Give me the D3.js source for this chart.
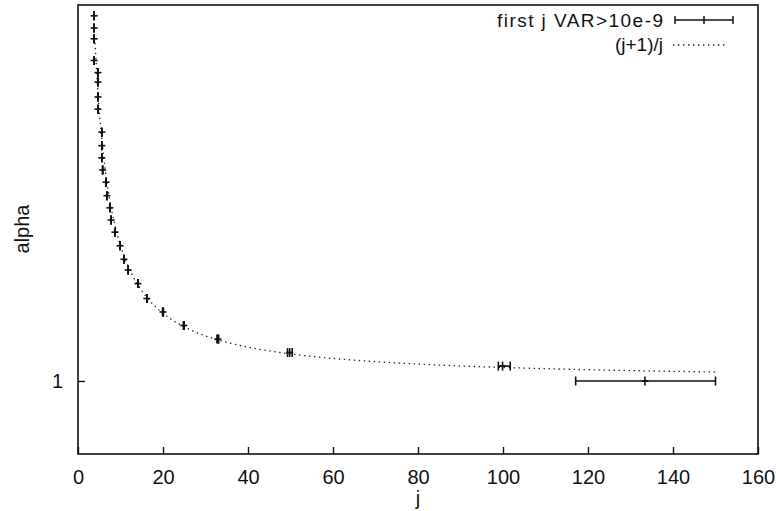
<!DOCTYPE html>
<html>
<head>
<meta charset="utf-8">
<script src="https://cdn.jsdelivr.net/npm/d3@7"></script>
<style>
  body { margin: 0; background: #fff; }
  text { font-family: "Liberation Sans", Arial, sans-serif; fill: #111; }
</style>
</head>
<body>
<svg id="chart" width="776" height="511"></svg>
<script>
// alpha values and the first j where VAR > 10e-9 (mean, low, high)
let alphas = [1.270, 1.261, 1.253, 1.237, 1.228, 1.221, 1.210, 1.201, 1.184, 1.174, 1.165, 1.156,
              1.147, 1.137, 1.128, 1.119, 1.110, 1.100, 1.090, 1.082, 1.072, 1.061, 1.051, 1.041,
              1.031, 1.021, 1.011, 1.000];
let jMean = [3.8, 3.8, 3.8, 3.8, 4.7, 4.7, 4.7, 4.7, 5.6, 5.6, 5.6, 5.8,
             6.6, 6.8, 7.5, 7.8, 8.7, 9.9, 10.8, 11.8, 14.1, 16.2, 20.0, 24.9,
             32.9, 49.8, 99.9, 133.4];
let jLow = [3.8, 3.8, 3.8, 3.8, 4.7, 4.7, 4.7, 4.7, 5.6, 5.6, 5.6, 5.8,
            6.6, 6.8, 7.5, 7.8, 8.7, 9.9, 10.8, 11.8, 14.1, 16.2, 19.9, 24.8,
            32.7, 49.3, 98.9, 117.1];
let jHigh = [3.8, 3.8, 3.8, 3.8, 4.7, 4.7, 4.7, 4.7, 5.6, 5.6, 5.6, 5.8,
             6.6, 6.8, 7.5, 7.8, 8.7, 9.9, 10.8, 11.8, 14.1, 16.2, 20.1, 25.0,
             33.1, 50.4, 101.7, 150.0];
let xTicks = [0, 20, 40, 60, 80, 100, 120, 140, 160];
let yTicks = [1];
let curveJ = d3.range(4, 150.01, 0.5);

let svg = d3.select("#chart");
let mLeft = 78, mRight = 758, mTop = 5, mBottom = 454;

let x = d3.scaleLinear().domain([0, 160]).range([mLeft, mRight]);
let y = d3.scaleLinear().domain([0.946, 1.278]).range([mBottom, mTop]);

// frame
svg.append("rect")
   .attr("x", mLeft).attr("y", mTop)
   .attr("width", mRight - mLeft).attr("height", mBottom - mTop)
   .attr("fill", "none").attr("stroke", "#111").attr("stroke-width", 1.6);

// x axis ticks and labels
let xAxis = svg.append("g").attr("transform", `translate(0,${mBottom})`)
               .call(d3.axisBottom(x).tickValues(xTicks).tickSize(-7).tickPadding(16));
xAxis.select(".domain").remove();
xAxis.selectAll("line").attr("stroke", "#111").attr("stroke-width", 1.4);
xAxis.selectAll("text").style("font-size", "20px").attr("fill", "#111")
     .attr("font-family", "Liberation Sans, Arial, sans-serif");

// y axis
let yAxis = svg.append("g").attr("transform", `translate(${mLeft},0)`)
               .call(d3.axisLeft(y).tickValues(yTicks).tickFormat(d3.format("d")).tickSize(-7).tickPadding(15));
yAxis.select(".domain").remove();
yAxis.selectAll("line").attr("stroke", "#111").attr("stroke-width", 1.4);
yAxis.selectAll("text").style("font-size", "20px").attr("fill", "#111")
     .attr("font-family", "Liberation Sans, Arial, sans-serif");

// axis titles
svg.append("text").attr("x", x(80)).attr("y", 505)
   .attr("text-anchor", "middle").style("font-size", "20px").text("j");
svg.append("text").attr("transform", "translate(29,229) rotate(-90)")
   .attr("text-anchor", "middle").style("font-size", "20px").text("alpha");

// (j+1)/j dotted curve
let line = d3.line().x(d => x(d)).y(d => y((d + 1) / d));
svg.append("path").datum(curveJ)
   .attr("d", line)
   .attr("fill", "none").attr("stroke", "#222").attr("stroke-width", 1.3)
   .attr("stroke-dasharray", "1.4,3.6");

// x error bars
let pts = alphas.map((a, i) => ({a: a, j: jMean[i], lo: jLow[i], hi: jHigh[i]}));
let bars = svg.append("g").selectAll("g").data(pts).enter().append("g")
              .attr("stroke", "#111").attr("stroke-width", 1.6);
bars.append("line")
    .attr("x1", d => x(d.lo)).attr("x2", d => x(d.hi))
    .attr("y1", d => y(d.a)).attr("y2", d => y(d.a));
bars.append("line")
    .attr("x1", d => x(d.j) - 3.5).attr("x2", d => x(d.j) + 3.5)
    .attr("y1", d => y(d.a)).attr("y2", d => y(d.a));
bars.append("line")
    .attr("x1", d => x(d.j)).attr("x2", d => x(d.j))
    .attr("y1", d => y(d.a) - 4.5).attr("y2", d => y(d.a) + 4.5);
bars.append("line")
    .attr("x1", d => x(d.lo)).attr("x2", d => x(d.lo))
    .attr("y1", d => y(d.a) - 4.5).attr("y2", d => y(d.a) + 4.5);
bars.append("line")
    .attr("x1", d => x(d.hi)).attr("x2", d => x(d.hi))
    .attr("y1", d => y(d.a) - 4.5).attr("y2", d => y(d.a) + 4.5);

// legend
let legend = svg.append("g");
legend.append("text").attr("x", 663).attr("y", 27).attr("text-anchor", "end")
      .style("font-size", "19px").attr("textLength", 166).text("first j VAR>10e-9");
legend.append("text").attr("x", 663).attr("y", 51).attr("text-anchor", "end")
      .style("font-size", "19px").text("(j+1)/j");
let lg = legend.append("g").attr("stroke", "#111").attr("stroke-width", 1.5);
lg.append("line").attr("x1", 675).attr("x2", 733).attr("y1", 20).attr("y2", 20);
[675, 704, 733].forEach(v => {
  lg.append("line").attr("x1", v).attr("x2", v).attr("y1", 16).attr("y2", 24);
});
legend.append("line").attr("x1", 673).attr("x2", 728).attr("y1", 45).attr("y2", 45)
      .attr("stroke", "#222").attr("stroke-width", 1.3).attr("stroke-dasharray", "1.4,3.6");
</script>
</body>
</html>
